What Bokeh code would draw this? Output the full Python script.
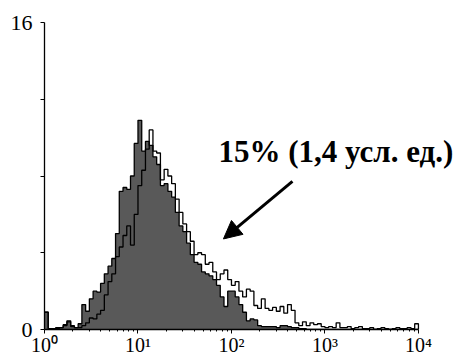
import numpy as np
from bokeh.plotting import figure
from bokeh.models import FixedTicker, Label, Arrow, NormalHead
from bokeh.embed import file_html
from bokeh.resources import INLINE

# histogram channels: log10 scale from 10^0 to 10^4, 100 equal bins
log_min, log_max, n_bins = 0, 4, 100

# filled grey histogram (control)
gray_counts = [
    0.9, 0.05, 0.05, 0.1, 0.1, 0.25, 0.45, 0.2, 0.1, 0.3,
    1.3, 0.95, 1.6, 2.0, 1.95, 2.4, 2.9, 3.3, 3.7, 5.0,
    7.2, 7.4, 7.3, 8.0, 9.7, 10.9, 9.3, 9.8, 9.6, 9.0,
    8.6, 7.5, 7.6, 7.2, 6.9, 6.1, 5.4, 5.1, 4.5, 3.9,
    3.5, 3.4, 3.0, 2.9, 2.8, 2.6, 2.3, 1.7, 1.2, 2.0,
    2.0, 1.7, 1.3, 0.9, 0.45, 0.55, 0.5, 0.2, 0.15, 0.15,
    0.15, 0.15, 0.1, 0.2, 0.2, 0.15, 0.1, 0.1, 0.05, 0.05,
    0, 0, 0, 0, 0, 0, 0, 0, 0, 0,
    0, 0, 0, 0, 0, 0, 0, 0, 0, 0,
    0, 0, 0, 0, 0, 0, 0, 0, 0, 0,
]

# open (outline) histogram (sample)
line_counts = [
    0.9, 0.05, 0.0, 0.05, 0.1, 0.2, 0.4, 0.15, 0.1, 0.1,
    0.2, 0.35, 0.6, 0.55, 0.8, 1.0, 1.8, 2.5, 2.9, 3.8,
    4.3, 4.9, 5.4, 4.4, 6.0, 7.5, 8.3, 9.4, 10.4, 9.3,
    9.2, 7.8, 8.35, 8.0, 7.6, 6.8, 6.1, 5.5, 5.1, 4.6,
    3.9, 4.0, 3.9, 3.4, 3.5, 3.0, 2.6, 2.9, 3.1, 2.6,
    2.3, 2.5, 2.0, 1.7, 2.1, 2.0, 1.25, 1.1, 1.6, 1.1,
    1.0, 1.15, 0.95, 1.2, 0.85, 1.3, 1.0, 0.35, 0.2, 0.4,
    0.2, 0.35, 0.25, 0.3, 0.15, 0.1, 0.15, 0.1, 0.35, 0.1,
    0.1, 0.15, 0.05, 0.1, 0.15, 0.05, 0.05, 0.1, 0.0, 0.05,
    0.1, 0.05, 0.0, 0.05, 0.1, 0.05, 0.05, 0.1, 0.05, 0.3,
]

x_tick_values = [1, 10, 100, 1000, 10000]
x_tick_labels = ["10⁰", "10¹", "10²", "10³", "10⁴"]
y_tick_values = [0, 4, 8, 12, 16]
y_tick_labels = ["0", "", "", "", "16"]
annotation_text = "15% (1,4 усл. ед.)"

edges = list(10 ** np.linspace(log_min, log_max, n_bins + 1))
gy = gray_counts + [0]
ly = line_counts + [0]

# x range extends past 10^4 so that the annotation has room; axis bounded at 10^4
p = figure(width=460, height=358, x_axis_type="log",
           x_range=(1, 10 ** 4.45), y_range=(0, 16),
           output_backend="svg", toolbar_location=None,
           min_border_left=44, min_border_right=0,
           min_border_top=22, min_border_bottom=0)
p.outline_line_color = None
p.grid.visible = False
p.background_fill_color = "white"

p.varea_step(x=edges, y1=0, y2=gy, step_mode="after",
             fill_color="#595959")
p.step(edges, gy, mode="after", line_color="black", line_width=1.3)
p.step(edges, ly, mode="after", line_color="black", line_width=1.3)

minor = [k * 10 ** d for d in range(4) for k in range(2, 10)]
p.xaxis.ticker = FixedTicker(ticks=x_tick_values, minor_ticks=minor)
p.xaxis.major_label_overrides = dict(zip(x_tick_values, x_tick_labels))
p.xaxis.bounds = (1, 10000)
p.yaxis.ticker = FixedTicker(ticks=y_tick_values)
p.yaxis.major_label_overrides = dict(zip(y_tick_values, y_tick_labels))

for ax in (p.xaxis[0], p.yaxis[0]):
    ax.axis_line_color = "black"
    ax.axis_line_width = 1.3
    ax.major_tick_line_color = "black"
    ax.minor_tick_line_color = "black"
    ax.major_tick_in = 0
    ax.major_tick_out = 4
    ax.minor_tick_in = 0
    ax.minor_tick_out = 2
    ax.major_label_text_font = "Liberation Serif"
    ax.major_label_text_color = "black"
p.xaxis.major_label_text_font_size = "20px"
p.xaxis.major_label_standoff = 0
p.yaxis.major_label_text_font_size = "22px"
p.yaxis.major_label_standoff = 8
p.yaxis.minor_tick_line_color = None

p.add_layout(Label(x=72.6, y=9.27, text=annotation_text,
                   text_font="Liberation Serif", text_font_style="bold",
                   text_font_size="31px", text_color="black",
                   text_baseline="alphabetic", text_align="left"))
p.add_layout(Arrow(end=NormalHead(size=18, fill_color="black",
                                  line_color="black"),
                   x_start=449, y_start=7.72, x_end=82, y_end=4.72,
                   line_width=3, line_color="black"))

open("out.html", "w").write(file_html(p, INLINE))
